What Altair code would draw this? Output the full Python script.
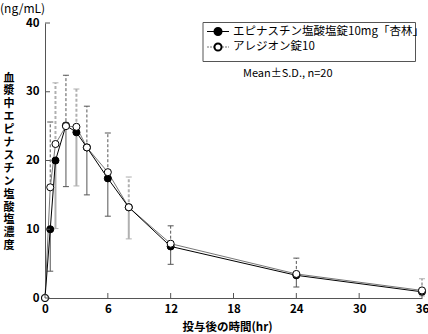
import altair as alt
import pandas as pd

# ---- data ----
times = [0, 0.5, 1, 2, 3, 4, 6, 8, 12, 24, 36]
kyorin_mean = [0, 10.0, 20.0, 25.1, 24.1, 21.9, 17.4, 13.2, 7.5, 3.3, 0.9]
kyorin_sd = [0, 6.1, 9.9, 8.9, 7.8, 6.9, 5.5, 4.6, 2.6, 1.7, 0.6]
alesion_mean = [0, 16.1, 22.4, 25.0, 24.9, 21.9, 18.3, 13.2, 7.9, 3.5, 1.1]
alesion_sd = [0, 9.5, 8.9, 7.4, 5.5, 6.0, 5.7, 4.4, 2.6, 2.3, 1.7]
series_names = ["エピナスチン塩酸塩錠10mg「杏林」", "アレジオン錠10"]
x_ticks = [0, 6, 12, 18, 24, 30, 36]
y_ticks = [0, 10, 20, 30, 40]
y_title = "血漿中エピナスチン塩酸塩濃度"
unit_label = "(ng/mL)"
x_title = "投与後の時間(hr)"
note = "Mean±S.D., n=20"

df = pd.DataFrame({
    "t": times,
    "k_mean": kyorin_mean, "k_sd": kyorin_sd,
    "a_mean": alesion_mean, "a_sd": alesion_sd,
})
xt = pd.DataFrame({"t": x_ticks})
yt = pd.DataFrame({"y": y_ticks})

FONT = "Noto Sans CJK JP"
DARK = "#555555"
LIGHT = "#b0b0b0"

x_axis = alt.Axis(values=x_ticks, title=x_title, grid=False, ticks=False,
                  domainColor=DARK, labelFont=FONT, labelFontSize=11.5,
                  labelFontWeight="bold", labelPadding=5, labelColor="black",
                  titleFont=FONT, titleFontSize=11.5, titleFontWeight="bold",
                  titleX=182, titleY=29, titleBaseline="middle", titleAlign="center",
                  titleColor="black", labelFlush=False)
y_axis = alt.Axis(values=y_ticks, title=list(y_title), grid=False, ticks=False,
                  domainColor=DARK, labelFont=FONT, labelFontSize=11.5,
                  labelFontWeight="bold", labelPadding=6, labelColor="black",
                  titleFont=FONT, titleFontSize=11, titleFontWeight="bold",
                  titleAngle=0, titleX=-36.5, titleY=49, titleBaseline="top",
                  titleAlign="center", titleLineHeight=12.9, titleColor="black")

xs = alt.Scale(domain=[0, 36], nice=False)
ys = alt.Scale(domain=[0, 40], nice=False)

def X(f):
    return alt.X(f, type="quantitative", scale=xs, axis=x_axis)

def Y(f):
    return alt.Y(f, type="quantitative", scale=ys, axis=y_axis)

light_test = "indexof([1, 3, 8, 36], datum.t) >= 0"
bar_color = alt.condition(light_test, alt.value(LIGHT), alt.value(DARK))
bar_width = alt.condition(light_test, alt.value(2), alt.value(1))

base = alt.Chart(df).transform_filter("datum.t > 0").transform_calculate(
    a_up="datum.a_mean + datum.a_sd", k_lo="datum.k_mean - datum.k_sd")

up_bar = base.mark_rule(strokeDash=[3, 2]).encode(
    x=X("t"), y=Y("a_mean"), y2="a_up", color=bar_color, strokeWidth=bar_width)
up_cap = base.mark_rule(xOffset=-3, x2Offset=3).encode(
    x=X("t"), x2="t", y=Y("a_up"), color=bar_color)
lo_bar = base.mark_rule().encode(
    x=X("t"), y=Y("k_mean"), y2="k_lo", color=bar_color, strokeWidth=bar_width)
lo_cap = base.mark_rule(xOffset=-3, x2Offset=3).encode(
    x=X("t"), x2="t", y=Y("k_lo"), color=bar_color)

line_k = alt.Chart(df).mark_line(color="black", strokeWidth=1).encode(x=X("t"), y=Y("k_mean"))
line_a = alt.Chart(df).mark_line(color="#777777", strokeWidth=1).encode(x=X("t"), y=Y("a_mean"))
pt_k = alt.Chart(df).mark_point(shape="circle", filled=True, fill="black", stroke="black",
                                strokeWidth=1, size=50, opacity=1).encode(x=X("t"), y=Y("k_mean"))
pt_a = alt.Chart(df).mark_point(shape="circle", filled=True, fill="white", stroke="black",
                                strokeWidth=1, size=50, opacity=1).encode(x=X("t"), y=Y("a_mean"))

# inward axis ticks
ytk = alt.Chart(yt).mark_rule(color=DARK).encode(y=Y("y"), x=alt.value(0), x2=alt.value(5))
xtk = alt.Chart(xt).mark_rule(color=DARK).encode(x=X("t"), y=alt.value(270), y2=alt.value(275))

# legend
one = alt.Chart(pd.DataFrame({"a": [0]}))
leg_box = one.mark_rect(fill="white", stroke=DARK, strokeWidth=1).encode(
    x=alt.value(158), x2=alt.value(370.5), y=alt.value(-0.5), y2=alt.value(38.5))
leg_l1 = one.mark_rule(color="black").encode(x=alt.value(162), x2=alt.value(184), y=alt.value(8.5))
leg_l2 = one.mark_rule(color="#777777", strokeDash=[2, 1]).encode(
    x=alt.value(162), x2=alt.value(184), y=alt.value(24))
leg_p1 = one.mark_point(shape="circle", filled=True, fill="black", stroke="black", size=50,
                        opacity=1).encode(x=alt.value(173), y=alt.value(8.5))
leg_p2 = one.mark_point(shape="circle", filled=True, fill="white", stroke="black", size=50,
                        opacity=1).encode(x=alt.value(173), y=alt.value(24))
leg_t1 = one.mark_text(align="left", baseline="middle", font=FONT, fontSize=11.5).encode(
    x=alt.value(188), y=alt.value(8.5), text=alt.value(series_names[0]))
leg_t2 = one.mark_text(align="left", baseline="middle", font=FONT, fontSize=11.5).encode(
    x=alt.value(188), y=alt.value(24), text=alt.value(series_names[1]))
note_t = one.mark_text(align="left", baseline="middle", font=FONT, fontSize=11).encode(
    x=alt.value(198), y=alt.value(51), text=alt.value(note))
unit_t = one.mark_text(align="left", baseline="middle", font=FONT, fontSize=12).encode(
    x=alt.value(-45), y=alt.value(-14), text=alt.value(unit_label))

chart = alt.layer(
    lo_bar, lo_cap, up_bar, up_cap, line_a, line_k, pt_k, pt_a, ytk, xtk,
    leg_box, leg_l1, leg_l2, leg_p1, leg_p2, leg_t1, leg_t2, note_t, unit_t,
).properties(
    width=377, height=275,
    padding={"left": 45, "top": 23, "right": 6, "bottom": 36},
    autosize=alt.AutoSizeParams(type="none"),
    background="white",
).configure_view(stroke=None)

chart.save("out.html", embed_options={"renderer": "svg", "actions": False})
